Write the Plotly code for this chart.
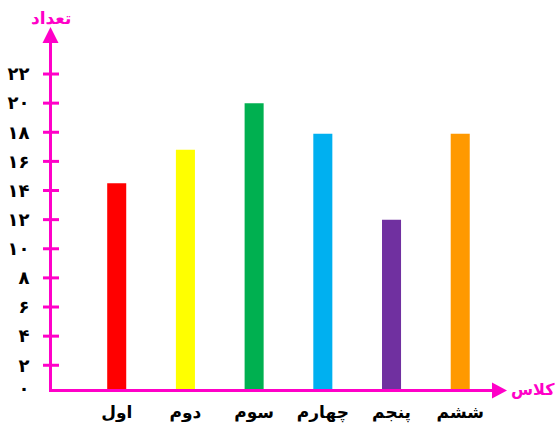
import plotly.graph_objects as go

# Data
categories = ["اول", "دوم", "سوم", "چهارم", "پنجم", "ششم"]
counts = [14.5, 16.8, 20.0, 17.9, 12.0, 17.9]
bar_colors = ["#FF0000", "#FFFF00", "#00B050", "#00B0F0", "#7030A0", "#FF9900"]
y_ticks = list(range(0, 23, 2))
y_tick_text = ["۰", "۲", "۴", "۶", "۸", "۱۰", "۱۲", "۱۴", "۱۶", "۱۸", "۲۰", "۲۲"]
y_title = "تعداد"
x_title = "کلاس"

AXIS = "#FF00C8"
FONT = "DejaVu Sans"

W, H = 556, 429
ML, MR, MT, MB = 52, 63, 43, 40
PW, PH = W - ML - MR, H - MT - MB

x_range = [-0.942, 5.477]
y_range = [0.37, 24.13]


def px(xp):
    return (xp - ML) / PW


def py(yp):
    return (H - MB - yp) / PH


fig = go.Figure()

fig.add_trace(go.Bar(
    x=list(range(len(categories))),
    y=counts,
    marker=dict(color=bar_colors, line=dict(width=0)),
    width=0.277,
    hoverinfo="skip",
))

# crossing tick marks on the vertical axis
for v in y_ticks[1:]:
    fig.add_shape(type="line", xref="paper", yref="y",
                  x0=px(43), x1=px(59), y0=v, y1=v,
                  line=dict(color=AXIS, width=3), layer="above")

# arrow heads
fig.add_shape(type="path", xref="paper", yref="paper",
              path=f"M {px(50.5)},{py(27)} L {px(42.5)},{py(43)} L {px(58.5)},{py(43)} Z",
              fillcolor=AXIS, line=dict(width=0))
fig.add_shape(type="path", xref="paper", yref="paper",
              path=f"M {px(507)},{py(390.5)} L {px(492)},{py(382.5)} L {px(492)},{py(398.5)} Z",
              fillcolor=AXIS, line=dict(width=0))

fig.add_annotation(text=y_title, xref="paper", yref="paper", x=px(51), y=py(18),
                   showarrow=False,
                   font=dict(family=FONT, size=17, color=AXIS, weight="bold"),
                   xanchor="center", yanchor="middle")
fig.add_annotation(text=x_title, xref="paper", yref="paper", x=px(533), y=py(389),
                   showarrow=False,
                   font=dict(family=FONT, size=16, color=AXIS, weight="bold"),
                   xanchor="center", yanchor="middle")

# the zero label sits on the horizontal axis line
label_positions = [y_range[0]] + y_ticks[1:]

fig.update_layout(
    width=W, height=H,
    margin=dict(l=ML, r=MR, t=MT, b=MB, autoexpand=False),
    plot_bgcolor="white", paper_bgcolor="white",
    showlegend=False,
    xaxis=dict(
        range=x_range, tickvals=list(range(len(categories))), ticktext=categories,
        showgrid=False, zeroline=False, showline=True, linecolor=AXIS, linewidth=3,
        ticks="", ticklabelstandoff=6, automargin=False,
        tickfont=dict(family=FONT, size=17, color="black", weight="bold"),
    ),
    yaxis=dict(
        range=y_range, tickvals=label_positions, ticktext=y_tick_text,
        showgrid=False, zeroline=False, showline=True, linecolor=AXIS, linewidth=3,
        ticks="", ticklabelstandoff=16, automargin=False,
        tickfont=dict(family=FONT, size=18, color="black", weight="bold"),
    ),
)

fig.write_html("out.html")
